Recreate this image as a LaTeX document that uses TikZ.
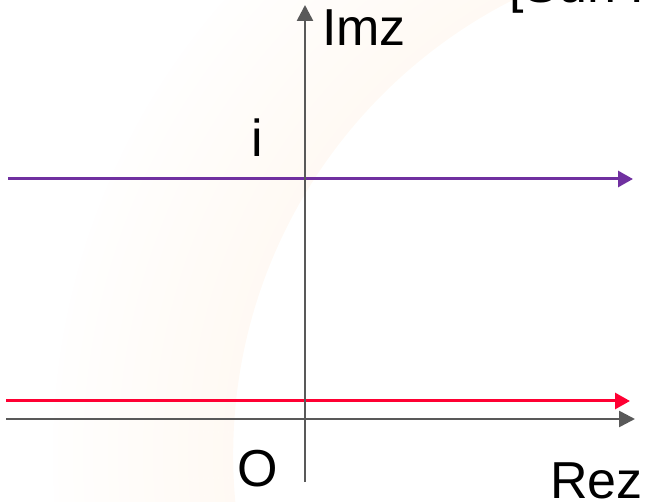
\documentclass[tikz,border=0pt]{standalone}
\usepackage{fontspec}
\setmainfont{Liberation Sans}
\usetikzlibrary{arrows.meta}
\definecolor{axisgray}{RGB}{89,89,89}
\definecolor{linepurple}{RGB}{112,48,160}
\definecolor{linered}{RGB}{255,0,51}
\begin{document}
\begin{tikzpicture}[x=1pt,y=-1pt,
  axis/.style={axisgray,line width=2.6pt,-{Triangle[length=16pt,width=16pt]}},
  curve/.style={line width=3pt,-{Triangle[length=15pt,width=16pt]}},
  lbl/.style={anchor=base west,inner sep=0pt,outer sep=0pt,font=\fontsize{52}{60}\selectfont}]
\useasboundingbox (0,0) rectangle (648,502);
% faint watermark ring
\begin{scope}
\clip (0,0) rectangle (648,502);
\foreach \i in {0,...,35}{
  \pgfmathsetmacro\rr{512.5+5*\i}
  \pgfmathsetmacro\cc{4.5*(1-\i/40)}
  \draw[line width=5.4pt,draw=orange!\cc] (743,455) circle[radius=\rr pt];
}
\end{scope}
% coordinates
\coordinate (pL) at (8,179);
\coordinate (pR) at (633,179);
\coordinate (rL) at (6,401);
\coordinate (rR) at (630,401);
\coordinate (xL) at (6,419);
\coordinate (xR) at (635,419);
\coordinate (yB) at (305,482);
\coordinate (yT) at (305,5);
% lines
\draw[curve,linepurple] (pL) -- (pR);
\draw[curve,linered] (rL) -- (rR);
\draw[axis] (xL) -- (xR);
\draw[axis] (yB) -- (yT);
% labels
\node[lbl] (imz) at (322,46) {Imz};
\node[lbl] (ilab) at (251.5,157) {i};
\node[lbl] (olab) at (237.5,486) {O};
\node[lbl] (rez) at (550,498) {Rez};
\node[lbl] (sun) at (509.5,2.5) {[Sun P};
\end{tikzpicture}
\end{document}
